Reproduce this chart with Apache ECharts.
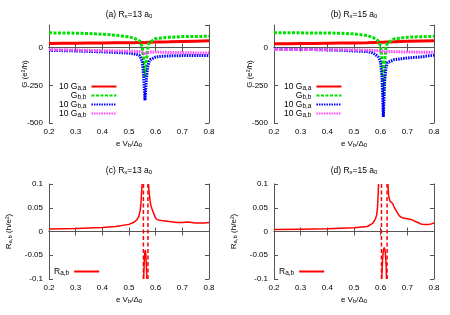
<!DOCTYPE html>
<html><head><meta charset="utf-8">
<script src="https://cdn.jsdelivr.net/npm/echarts@6/dist/echarts.min.js"></script>
<style>html,body{margin:0;padding:0;background:#fff}#c{width:450px;height:315px}</style>
</head><body><div id="c"></div>
<script>
// ---- Panel (a) Rx=13 a0 ----
var xA = [0.2,0.25,0.3,0.35,0.4,0.45,0.5,0.52,0.53,0.54,0.545,0.55,0.555,0.56,0.565,0.57,0.575,0.58,0.6,0.62,0.65,0.7,0.75,0.8];
var gaaA = [28,28.5,29,30,31,32,33,33,33.5,34,34,34,33,33,34,35,35,36,37,38,39,41,43,45];
var gbbA = [98,97,96,93,89,82,71,62,53,44,32,5,-80,-200,-90,-10,32,45,60,64,68,73,74,75];
var gbaA = [-18,-20,-22,-25,-28,-32,-36,-42,-46,-53,-60,-90,-200,-350,-220,-130,-95,-80,-62,-58,-55,-53,-53,-53];
var gabA = [-13,-14,-16,-18,-20,-22,-24,-25,-26,-27,-28,-33,-40,-45,-40,-33,-30,-29,-29,-30,-32,-33,-35,-36];
// ---- Panel (b) Rx=15 a0 ----
var xB = [0.2,0.25,0.3,0.35,0.4,0.45,0.5,0.55,0.57,0.58,0.59,0.595,0.6,0.605,0.61,0.615,0.62,0.625,0.63,0.65,0.7,0.75,0.8];
var gaaB = [25,26,27,28,29,30,31,33,34,34,35,35,35,35,35,36,37,37,38,39,42,44,46];
var gbbB = [98,98,98,97,97,95,91,80,68,58,45,32,10,-80,-320,-100,0,30,42,58,69,72,75];
var gbaB = [-10,-11,-12,-13,-15,-18,-22,-26,-35,-45,-60,-75,-100,-200,-460,-230,-130,-100,-92,-80,-69,-62,-50];
var gabB = [-12,-12,-13,-13,-14,-14,-15,-17,-18,-19,-20,-21,-23,-26,-30,-27,-25,-25,-26,-27,-29,-30,-31];
// ---- Panel (c) R_ab, Rx=13 a0 ----
var xC1 = [0.2,0.3,0.4,0.45,0.5,0.52,0.53,0.537,0.542,0.545,0.547,0.549];
var rC1 = [0.0055,0.0065,0.0083,0.0105,0.015,0.02,0.025,0.032,0.045,0.06,0.08,0.1];
var xC2 = [0.555,0.557,0.559,0.561,0.563,0.565,0.567];
var rC2 = [-0.1,-0.065,-0.045,-0.039,-0.048,-0.07,-0.1];
var xC3 = [0.573,0.576,0.579,0.582,0.586,0.59,0.598,0.605,0.62,0.65,0.68,0.7,0.72,0.75,0.78,0.8];
var rC3 = [0.1,0.08,0.065,0.055,0.048,0.042,0.03,0.025,0.023,0.021,0.019,0.019,0.02,0.018,0.018,0.019];
var poleC = [0.554,0.571];
// ---- Panel (d) R_ab, Rx=15 a0 ----
var xD1 = [0.2,0.3,0.4,0.5,0.55,0.57,0.58,0.585,0.588,0.59,0.592];
var rD1 = [0.004,0.0048,0.0058,0.008,0.0105,0.017,0.026,0.035,0.05,0.07,0.1];
var xD2 = [0.604,0.607,0.61,0.6135,0.617,0.62,0.622];
var rD2 = [-0.1,-0.06,-0.04,-0.0335,-0.042,-0.065,-0.1];
var xD3 = [0.627,0.63,0.635,0.64,0.645,0.65,0.66,0.67,0.68,0.69,0.7,0.71,0.72,0.73,0.74,0.75,0.76,0.77,0.78,0.79,0.8];
var rD3 = [0.1,0.075,0.064,0.062,0.059,0.052,0.042,0.033,0.029,0.028,0.027,0.026,0.024,0.021,0.019,0.016,0.015,0.015,0.015,0.016,0.018];
var poleD = [0.603,0.624];
// ---- axis ticks ----
var xMin = 0.2, xMax = 0.8, xStep = 0.1;
var gMin = -500, gMax = 150, gStep = 250;
var rMin = -0.1, rMax = 0.1, rStep = 0.05;
var titles = ['(a) R{s|x}=13 a{s|0}','(b) R{s|x}=15 a{s|0}','(c) R{s|x}=13 a{s|0}','(d) R{s|x}=15 a{s|0}'];

function zip(xs, ys){ return xs.map(function(x,i){return [x, ys[i]];}); }
function pole(x){ return [[x, rMin],[x, rMax]]; }

var FONT = 'Liberation Sans';
var rich = {
  s: {fontSize: 6, fontFamily: FONT, color: '#000', lineHeight: 4, verticalAlign: 'bottom'}
};
var richL = {
  s: {fontSize: 6.5, fontFamily: FONT, color: '#000', lineHeight: 4, verticalAlign: 'bottom'}
};
var grids = [
  {left: 49, top: 25, width: 160, height: 98},
  {left: 274, top: 25, width: 160, height: 98},
  {left: 49, top: 184, width: 160, height: 95},
  {left: 274, top: 184, width: 160, height: 95}
];
var lineC = '#555';
var xAxes = [], yAxes = [];
for (var i = 0; i < 4; i++) {
  xAxes.push({type: 'value', gridIndex: i, min: xMin, max: xMax, interval: xStep, position: 'bottom',
    name: 'e V{s|b}/Δ{s|0}', nameLocation: 'middle', nameGap: 17, nameMoveOverlap: false,
    nameTextStyle: {fontSize: 8, fontFamily: FONT, color: '#000', rich: rich},
    axisLine: {lineStyle: {color: lineC, width: 1}},
    axisTick: {inside: true, length: 4, lineStyle: {color: lineC}},
    axisLabel: {fontSize: 8, fontFamily: FONT, color: '#000', margin: 5, formatter: function(v){return v.toFixed(1);}},
    splitLine: {show: false}});
}
for (var i = 0; i < 4; i++) {
  xAxes.push({type: 'value', gridIndex: i, min: xMin, max: xMax, interval: xStep, position: 'top',
    axisLine: {lineStyle: {color: lineC, width: 1}},
    axisTick: {inside: true, length: 4, lineStyle: {color: lineC}},
    axisLabel: {show: false}, splitLine: {show: false}});
}
for (var i = 0; i < 4; i++) {
  var isG = i < 2;
  yAxes.push({type: 'value', gridIndex: i, position: 'left',
    min: isG ? gMin : rMin, max: isG ? gMax : rMax, interval: isG ? gStep : rStep,
    name: isG ? 'G (e²/h)' : 'R{s|a,b} (h/e²)', nameLocation: 'middle', nameGap: isG ? 20 : 36,
    nameMoveOverlap: false,
    nameTextStyle: {fontSize: 8, fontFamily: FONT, color: '#000', rich: rich},
    axisLine: {show: true, lineStyle: {color: lineC, width: 1}},
    axisTick: {show: true, inside: true, length: 4, lineStyle: {color: lineC}},
    axisLabel: {fontSize: 8, fontFamily: FONT, color: '#000', margin: 6, showMaxLabel: !isG,
      formatter: function(v){ return String(parseFloat(v.toFixed(2))); }},
    splitLine: {show: false}});
}
for (var i = 0; i < 4; i++) {
  var isG = i < 2;
  yAxes.push({type: 'value', gridIndex: i, position: 'right',
    min: isG ? gMin : rMin, max: isG ? gMax : rMax, interval: isG ? gStep : rStep,
    axisLine: {show: true, lineStyle: {color: lineC, width: 1}},
    axisTick: {show: true, inside: true, length: 4, lineStyle: {color: lineC}},
    axisLabel: {show: false}, splitLine: {show: false}});
}

function gSeries(name, xs, ys, gi, color, type, width) {
  return {type: 'line', name: name, xAxisIndex: gi, yAxisIndex: gi, data: zip(xs, ys),
    symbol: 'none', showSymbol: false, clip: true, silent: true, animation: false,
    lineStyle: {color: color, width: width, type: type}, itemStyle: {color: color}, z: 2};
}
var RED = '#ff0000', GRN = '#00e000', BLU = '#0000ff', MAG = '#ff44ff';
var series = [
  gSeries('Gaa', xA, gaaA, 0, RED, 'solid', 3),
  gSeries('Gbb', xA, gbbA, 0, GRN, [3,1.5], 3),
  gSeries('Gba', xA, gbaA, 0, BLU, [1.5,1], 3),
  gSeries('Gab', xA, gabA, 0, MAG, [1.5,1], 3),
  gSeries('Gaa', xB, gaaB, 1, RED, 'solid', 3),
  gSeries('Gbb', xB, gbbB, 1, GRN, [3,1.5], 3),
  gSeries('Gba', xB, gbaB, 1, BLU, [1.5,1], 3),
  gSeries('Gab', xB, gabB, 1, MAG, [1.5,1], 3),
  gSeries('Rab', xC1, rC1, 2, RED, 'solid', 1.5),
  gSeries('Rab', xC2, rC2, 2, RED, 'solid', 1.5),
  gSeries('Rab', xC3, rC3, 2, RED, 'solid', 1.5),
  gSeries('Rab', xD1, rD1, 3, RED, 'solid', 1.5),
  gSeries('Rab', xD2, rD2, 3, RED, 'solid', 1.5),
  gSeries('Rab', xD3, rD3, 3, RED, 'solid', 1.5)
];
poleC.forEach(function(p){ series.push({type:'line', name:'poleC', xAxisIndex:2, yAxisIndex:2, data: pole(p), symbol:'none', silent:true, animation:false, lineStyle:{color:RED, width:1.5, type:[4,2.5]}}); });
poleD.forEach(function(p){ series.push({type:'line', name:'poleD', xAxisIndex:3, yAxisIndex:3, data: pole(p), symbol:'none', silent:true, animation:false, lineStyle:{color:RED, width:1.5, type:[4,2.5]}}); });

var legNames = {Gaa: '10 G{s|a,a}', Gbb: 'G{s|b,b}', Gba: '10 G{s|b,a}', Gab: '10 G{s|a,b}', Rab: 'R{s|a,b}'};
function legend(left, top, data) {
  return {left: left, top: top, orient: 'vertical', align: 'right', data: data, itemWidth: 25, itemHeight: 8,
    itemGap: -2, selectedMode: false, padding: 0,
    itemStyle: {opacity: 0, borderWidth: 0},
    formatter: function(n){ return legNames[n]; },
    textStyle: {fontSize: 8.5, lineHeight: 11, fontFamily: FONT, color: '#000', rich: richL}};
}
var legends = [
  legend(59, 81, ['Gaa','Gbb','Gba','Gab']),
  legend(284, 81, ['Gaa','Gbb','Gba','Gab']),
  legend(54, 266, ['Rab']),
  legend(279, 266, ['Rab'])
];

var titleCfg = titles.map(function(t, i){
  return {text: t, left: grids[i].left + 80, top: i < 2 ? 10 : 166, textAlign: 'center', padding: 0,
    textStyle: {fontSize: 8.5, fontWeight: 'normal', fontFamily: FONT, color: '#000', rich: rich}};
});

var chart = echarts.init(document.getElementById('c'), null, {renderer: 'canvas'});
chart.setOption({
  animation: false,
  backgroundColor: '#fff',
  textStyle: {fontFamily: FONT},
  title: titleCfg,
  grid: grids,
  xAxis: xAxes,
  yAxis: yAxes,
  legend: legends,
  series: series
});
</script>
</body></html>
